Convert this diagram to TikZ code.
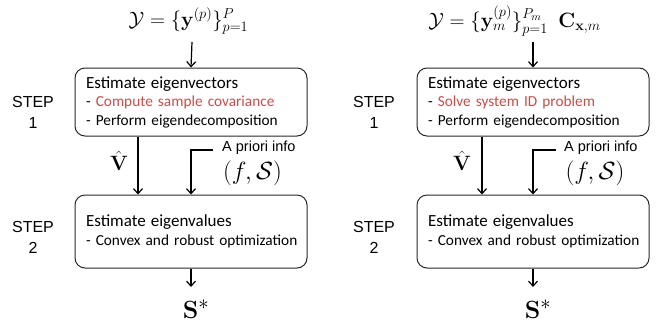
\documentclass[tikz,border=0pt]{standalone}
\usepackage{amsmath}
\usepackage[no-math]{fontspec}
\setmainfont{Carlito}
\newfontfamily\arialf{Liberation Sans}
\usetikzlibrary{arrows.meta}
\definecolor{accred}{RGB}{192,80,77}
\definecolor{boxgray}{RGB}{40,40,40}
\newcommand{\ttl}[1]{\mbox{\fontsize{17}{19}\selectfont #1}}
\newcommand{\bul}[1]{\mbox{#1}}
\tikzset{
  procbox/.style={draw=boxgray, line width=1pt, rounded corners=10pt, minimum width=232pt, text width=210pt, align=left, inner sep=0pt, font=\fontsize{15.3}{18.5}\selectfont},
  arr/.style={line width=1.2pt, -{Straight Barb[length=5pt,width=9pt,line width=1.2pt]}},
  steplbl/.style={font=\arialf\fontsize{16}{21}\selectfont, align=center},
  infolbl/.style={font=\arialf\fontsize{14.5}{16}\selectfont, anchor=west, inner sep=0pt},
  mathv/.style={font=\fontsize{21}{24}\selectfont, inner sep=0pt},
  maths/.style={font=\fontsize{29}{32}\selectfont, inner sep=0pt},
  mathf/.style={font=\fontsize{24}{26}\selectfont, inner sep=0pt},
  mathtop/.style={font=\fontsize{21}{24}\selectfont, inner sep=0pt}
}
\begin{document}
\begin{tikzpicture}[x=1pt,y=-1pt]
\useasboundingbox (0,0) rectangle (660,322);
% ---------- left panel ----------
\node[mathtop] (yl) at (188.5,21) {$\mathcal{Y}=\{\mathbf{y}^{(p)}\}_{p=1}^{P}$};
\coordinate (yls) at (192,42);
\node[procbox, minimum height=68pt] (b1) at (191,102) {\ttl{Estimate eigenvectors}\\\bul{- {\color{accred}Compute sample covariance}}\\\bul{- Perform eigendecomposition}};
\node[procbox, minimum height=73pt] (b2) at (191,231.5) {\ttl{Estimate eigenvalues}\\\bul{- Convex and robust optimization}};
\node[steplbl] (s1) at (33,112) {STEP\\1};
\node[steplbl] (s2) at (33,237) {STEP\\2};
\node[mathv] (vl) at (119,161) {$\hat{\mathbf{V}}$};
\node[infolbl] (al) at (222,148) {A priori info};
\node[mathf] (fl) at (252.5,173) {$(f,\mathcal{S})$};
\coordinate (alc) at (213,150);
\coordinate (sle) at (191,287);
\node[maths] (sl) at (196,309) {$\mathbf{S}^{*}$};
\draw[arr] (yls) -- (b1.north);
\draw[arr] (b1.south -| 138,0) -- (b2.north -| 138,0);
\draw[arr] (alc) -| (b2.north);
\draw[arr] (b2.south) -- (sle);
% ---------- right panel ----------
\node[mathtop] (yr) at (514.5,21) {$\mathcal{Y}=\{\mathbf{y}_m^{(p)}\}_{p=1}^{P_m}\enspace\mathbf{C}_{\mathbf{x},m}$};
\coordinate (yrs) at (533,42);
\node[procbox, minimum height=68pt] (b3) at (533,102) {\ttl{Estimate eigenvectors}\\\bul{- {\color{accred}Solve system ID problem}}\\\bul{- Perform eigendecomposition}};
\node[procbox, minimum height=73pt] (b4) at (533,231.5) {\ttl{Estimate eigenvalues}\\\bul{- Convex and robust optimization}};
\node[steplbl] (s3) at (374,112) {STEP\\1};
\node[steplbl] (s4) at (374,237) {STEP\\2};
\node[mathv] (vr) at (462,161) {$\hat{\mathbf{V}}$};
\node[infolbl] (ar) at (564,148) {A priori info};
\node[mathf] (fr) at (595,173) {$(f,\mathcal{S})$};
\coordinate (arc) at (556,150);
\coordinate (sre) at (533,287);
\node[maths] (sr) at (538,309) {$\mathbf{S}^{*}$};
\draw[arr] (yrs) -- (b3.north);
\draw[arr] (b3.south -| 482,0) -- (b4.north -| 482,0);
\draw[arr] (arc) -| (b4.north);
\draw[arr] (b4.south) -- (sre);
\end{tikzpicture}
\end{document}
